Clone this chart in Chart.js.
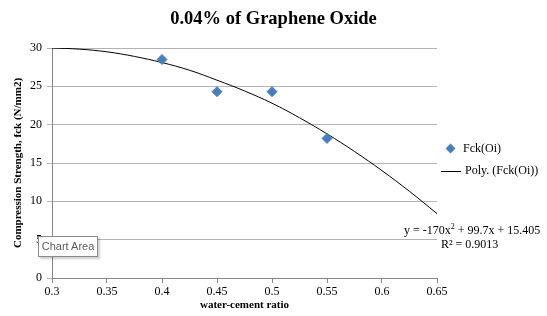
<!DOCTYPE html>
<html>
<head>
<meta charset="utf-8">
<script src="https://cdn.jsdelivr.net/npm/chart.js@4"></script>
<style>
  body { margin: 0; background: #fff; }
  #wrap { position: relative; width: 547px; height: 316px; font-family: "Liberation Serif", "Times New Roman", serif; }
  canvas { position: absolute; left: 0; top: 0; }
  .lbl { position: absolute; font-size: 12px; color: #000; white-space: nowrap; }
  #title { position: absolute; left: 0; width: 547px; top: 8px; text-align: center; font-weight: bold; font-size: 18.5px; }
  .diamond { position: absolute; width: 7px; height: 7px; background: #4a7ebb; transform: rotate(45deg); }
  .legline { position: absolute; height: 1px; background: #000; }
  #tip { position: absolute; left: 38px; top: 236px; width: 60px; height: 21px; border: 1px solid #8a8a8a;
         background: #fff; box-shadow: 2px 2px 2px rgba(0,0,0,0.2); font-family: "Liberation Sans", sans-serif;
         font-size: 11px; color: #5a5a5a; line-height: 19px; text-align: center; box-sizing: border-box;
         white-space: nowrap; overflow: hidden; }
</style>
</head>
<body>
<div id="wrap">
  <canvas id="c" width="547" height="316"></canvas>
  <div id="title">0.04% of Graphene Oxide</div>
  <div class="diamond" style="left:447px; top:145px;"></div>
  <div class="lbl" style="left:463px; top:141px;">Fck(Oi)</div>
  <div class="legline" style="left:441px; top:171px; width:20px;"></div>
  <div class="lbl" style="left:465px; top:163px;">Poly. (Fck(Oi))</div>
  <div class="lbl" style="left:404px; top:222px;">y = -170x<sup style="font-size:8px">2</sup> + 99.7x + 15.405</div>
  <div class="lbl" style="left:441px; top:237px;">R² = 0.9013</div>
  <div id="tip">Chart Area</div>
</div>
<script>
// measured points
const ratio = [0.4, 0.45, 0.5, 0.55];
const strength = [28.5, 24.3, 24.3, 18.2];

// trendline
const trendX = [0.3, 0.325, 0.35, 0.375, 0.4, 0.425, 0.45, 0.475, 0.5, 0.525, 0.55, 0.575, 0.6, 0.625, 0.65];
const trendY = [30.0, 29.85, 29.5, 28.9, 28.1, 27.1, 25.8, 24.4, 22.8, 20.9, 18.8, 16.5, 14.0, 11.3, 8.4];

const serif = "'Liberation Serif', 'Times New Roman', serif";

new Chart(document.getElementById('c'), {
  type: 'scatter',
  data: {
    datasets: [
      {
        label: 'Fck(Oi)',
        data: ratio.map((x, i) => ({ x, y: strength[i] })),
        pointStyle: 'rectRot',
        pointRadius: 5,
        backgroundColor: '#4a7ebb',
        borderColor: '#4a7ebb'
      },
      {
        label: 'Poly. (Fck(Oi))',
        type: 'line',
        data: trendX.map((x, i) => ({ x, y: trendY[i] })),
        borderColor: '#000',
        borderWidth: 1,
        pointRadius: 0,
        tension: 0.4,
        fill: false
      }
    ]
  },
  options: {
    responsive: false,
    animation: false,
    layout: { padding: { top: 48, right: 110, left: 0, bottom: 0 } },
    plugins: { legend: { display: false }, tooltip: { enabled: false }, title: { display: false } },
    scales: {
      x: {
        type: 'linear', min: 0.3, max: 0.65,
        ticks: { stepSize: 0.05, color: '#000', font: { family: serif, size: 12 },
                 callback: v => +v.toFixed(2) + '', padding: 2 },
        grid: { drawOnChartArea: false, drawTicks: true, tickLength: 5, color: '#868686' },
        border: { color: '#868686' },
        title: { display: true, text: 'water-cement ratio', color: '#000',
                 font: { family: serif, size: 11, weight: 'bold' }, padding: { top: 4 } },
        afterFit: s => { s.height = 38; }
      },
      y: {
        min: 0, max: 30,
        ticks: { stepSize: 5, color: '#000', font: { family: serif, size: 12 }, padding: 5 },
        grid: { color: '#b3b3b3', tickLength: 5 },
        border: { color: '#868686' },
        title: { display: true, text: 'Compression Strength, fck (N/mm2)', color: '#000',
                 font: { family: serif, size: 11, weight: 'bold' }, padding: { top: 12, bottom: 0 } },
        afterFit: s => { s.width = 52; }
      }
    }
  }
});
</script>
</body>
</html>
